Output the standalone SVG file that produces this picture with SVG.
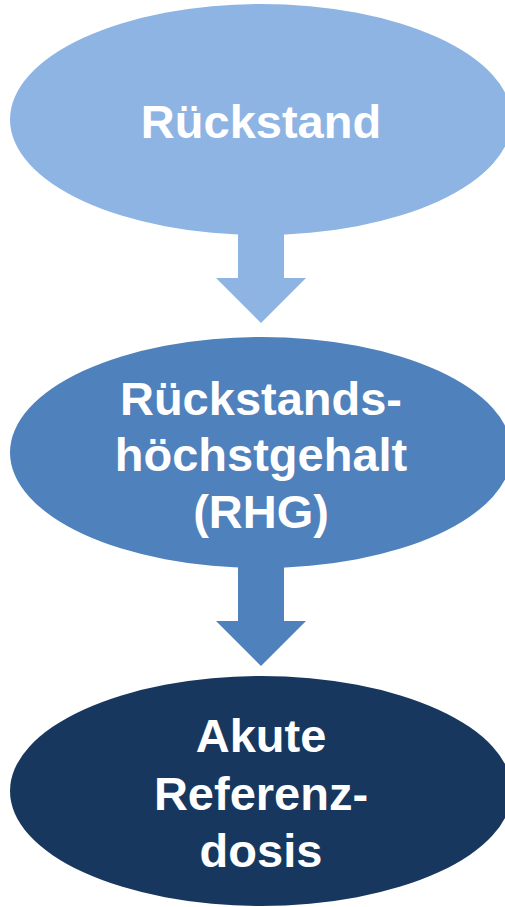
<svg xmlns="http://www.w3.org/2000/svg" width="505" height="907" viewBox="0 0 505 907">
<style>
.t{font-family:"Liberation Sans",Arial,sans-serif;font-weight:bold;font-size:47px;fill:#fff;text-anchor:middle}
</style>
<rect width="505" height="907" fill="#fff"/>
<g id="connectors">
<path d="M238,225 H284 V278 H306 L261,323 L216,278 H238 Z" fill="#8EB4E3"/>
<path d="M238,560 H284 V621 H306 L261,666 L216,621 H238 Z" fill="#4F81BD"/>
</g>
<g id="node1">
<ellipse cx="261" cy="119.5" rx="251" ry="115.5" fill="#8EB4E3"/>
<text class="t" x="261" y="138">Rückstand</text>
</g>
<g id="node2">
<ellipse cx="261" cy="452.5" rx="251" ry="115.5" fill="#4F81BD"/>
<text class="t" x="261" y="415">Rückstands-</text>
<text class="t" x="261" y="471">höchstgehalt</text>
<text class="t" x="261" y="528">(RHG)</text>
</g>
<g id="node3">
<ellipse cx="261" cy="791" rx="251" ry="115" fill="#17375E"/>
<text class="t" x="261" y="752">Akute</text>
<text class="t" x="261" y="810">Referenz-</text>
<text class="t" x="261" y="867">dosis</text>
</g>
</svg>
